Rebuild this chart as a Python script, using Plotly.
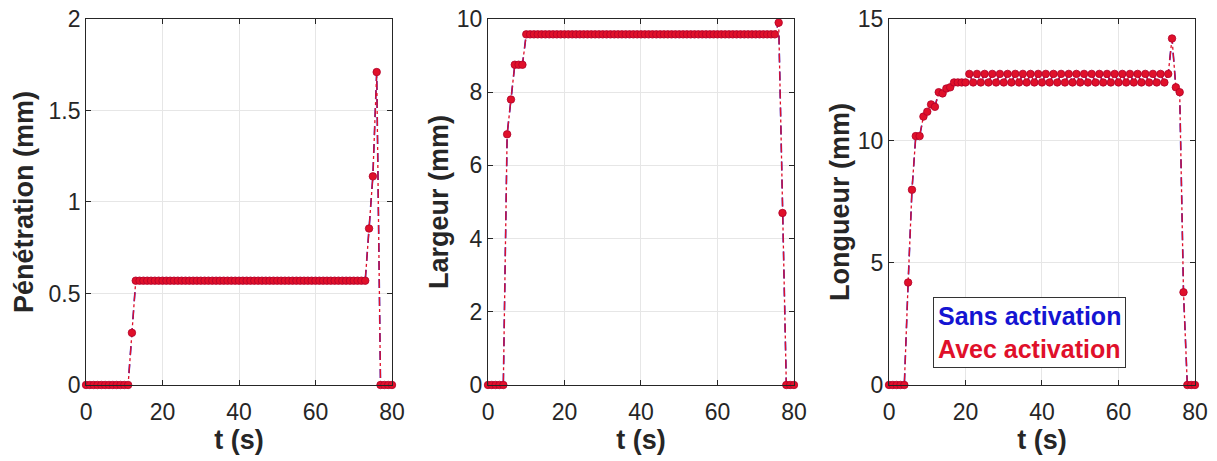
import plotly.graph_objects as go

# ---- data ----
t = list(range(0, 81))

penetration = ([0.0] * 12 + [0.285] + [0.57] * 61 +
               [0.855, 1.14, 1.71] + [0.0] * 4)

largeur = ([0.0] * 5 + [6.85, 7.8] + [8.75] * 3 + [9.58] * 66 +
           [9.9, 4.7] + [0.0] * 3)

longueur = ([0.0] * 5 + [4.2, 8.0, 10.2, 10.2, 11.0, 11.2, 11.5, 11.4,
                         12.0, 11.95, 12.15, 12.2] + [12.4] * 4 +
            [12.75, 12.4] * 26 + [12.75] +
            [14.2, 12.2, 12.0, 3.8] + [0.0] * 3)

series_names = ["Sans activation", "Avec activation"]
y_titles = ["Pénétration (mm)", "Largeur (mm)", "Longueur (mm)"]
y_ranges = [[0, 2], [0, 10], [0, 15]]
y_dticks = [0.5, 2, 5]
x_tick_vals = [0, 20, 40, 60, 80]

panels = [penetration, largeur, longueur]

BLUE = "#1414d2"
RED = "#e0102a"
AXC = "#262626"
FONT = "Liberation Sans, Arial, sans-serif"

fig = go.Figure()

x_domains = [[0.0707, 0.3221], [0.4010, 0.6524], [0.7305, 0.9819]]
y_domain = [0.1649, 0.9588]
y_title_standoff = [7, 0, 0]

for i, vals in enumerate(panels):
    xa = "x" if i == 0 else f"x{i+1}"
    ya = "y" if i == 0 else f"y{i+1}"
    fig.add_trace(go.Scatter(
        x=t, y=vals, mode="lines", name=series_names[0],
        line=dict(color=BLUE, width=1.6, dash="dash"),
        xaxis=xa, yaxis=ya, showlegend=False, cliponaxis=False))
    fig.add_trace(go.Scatter(
        x=t, y=vals, mode="lines+markers", name=series_names[1],
        line=dict(color=RED, width=1.3, dash="dashdot"),
        marker=dict(color=RED, size=7.5, line=dict(color="#b0002a", width=0.8)),
        xaxis=xa, yaxis=ya, showlegend=False, cliponaxis=False))

layout = dict(
    width=1217, height=461,
    margin=dict(l=0, r=0, t=0, b=0),
    paper_bgcolor="white", plot_bgcolor="white",
    font=dict(family=FONT, color=AXC, size=23),
    showlegend=False,
)

for i in range(3):
    xk = "xaxis" if i == 0 else f"xaxis{i+1}"
    yk = "yaxis" if i == 0 else f"yaxis{i+1}"
    ya = "y" if i == 0 else f"y{i+1}"
    xa = "x" if i == 0 else f"x{i+1}"
    layout[xk] = dict(
        domain=x_domains[i], anchor=ya, range=[0, 80], automargin=False,
        tickvals=x_tick_vals, ticks="inside", ticklen=5, tickcolor=AXC,
        ticklabelstandoff=6,
        showline=True, linecolor=AXC, linewidth=1, mirror="ticks",
        showgrid=True, gridcolor="#e6e6e6", gridwidth=1, zeroline=False,
        tickfont=dict(size=23, color=AXC),
        title=dict(text="<b>t (s)</b>", font=dict(size=27, color=AXC), standoff=2),
    )
    layout[yk] = dict(
        domain=y_domain, anchor=xa, range=y_ranges[i], dtick=y_dticks[i],
        automargin=False,
        ticks="inside", ticklen=5, tickcolor=AXC,
        showline=True, linecolor=AXC, linewidth=1, mirror="ticks",
        showgrid=True, gridcolor="#e6e6e6", gridwidth=1, zeroline=False,
        tickfont=dict(size=23, color=AXC),
        title=dict(text=f"<b>{y_titles[i]}</b>", font=dict(size=27, color=AXC),
                   standoff=y_title_standoff[i]),
    )

fig.update_layout(**layout)

fig.add_annotation(
    xref="paper", yref="paper", x=0.8459, y=0.2798,
    xanchor="center", yanchor="middle", align="left",
    text=(f"<b><span style='color:{BLUE}'>{series_names[0]}</span></b><br>"
          f"<b><span style='color:{RED}'>{series_names[1]}</span></b>"),
    font=dict(size=25, family=FONT),
    bgcolor="white", bordercolor="#333333", borderwidth=1, borderpad=4,
    showarrow=False,
)

fig.write_html("out.html", config={"displayModeBar": False},
               post_script="document.body.style.margin='0';")
